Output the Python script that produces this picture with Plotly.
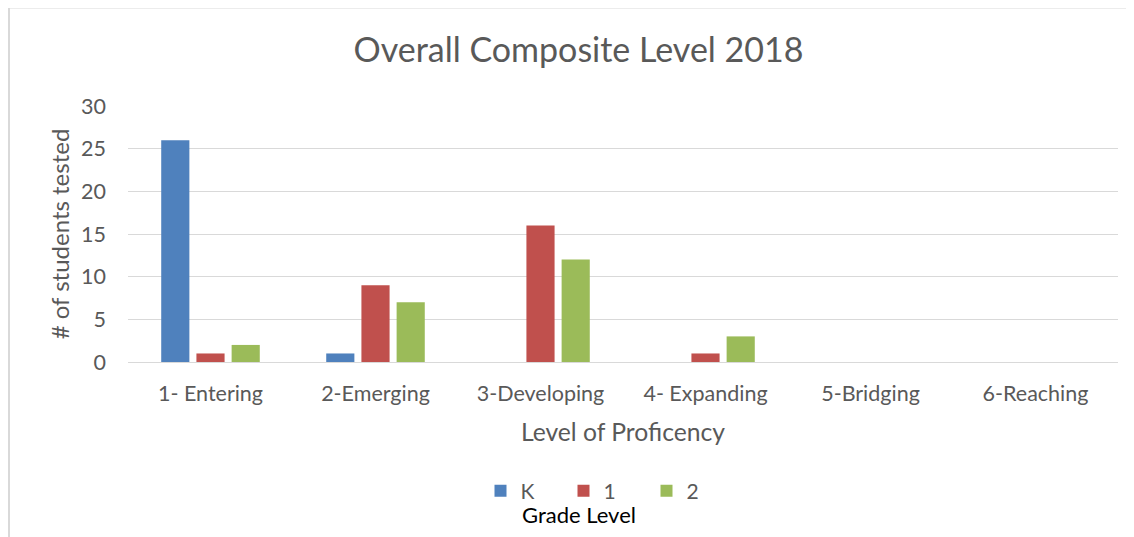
import plotly.graph_objects as go

categories = ["1- Entering", "2-Emerging", "3-Developing", "4- Expanding", "5-Bridging", "6-Reaching"]
grade_k = [26, 1, 0, 0, 0, 0]
grade_1 = [1, 9, 16, 1, 0, 0]
grade_2 = [2, 7, 12, 3, 0, 0]
series_names = ["K", "1", "2"]
colors = ["#4F81BD", "#C0504D", "#9BBB59"]

FONT = "Lato"
W, H = 1134, 537
OFF = 8  # page body margin
# screen-space plot box
SX0, SX1, SY0, SY1 = 128, 1118, 106, 362
L, T = SX0 - OFF, SY0 - OFF
R = W - (SX1 - OFF)
B = H - (SY1 - OFF)
pw, ph = SX1 - SX0, SY1 - SY0

fig = go.Figure()
for name, vals, c in zip(series_names, [grade_k, grade_1, grade_2], colors):
    fig.add_trace(go.Bar(x=categories, y=vals, name=name, marker_color=c,
                         marker_line_width=0))

def px_x(p):
    return (p - SX0) / pw

def px_y(p):
    return (SY1 - p) / ph

fig.update_layout(
    width=W, height=H,
    margin=dict(l=L, r=R, t=T, b=B, autoexpand=False),
    paper_bgcolor="white", plot_bgcolor="white",
    barmode="group", bargap=0.36, bargroupgap=0.2,
    title=dict(text="Overall Composite Level 2018", x=(578.5 - OFF) / W, xanchor="center",
               y=1 - (50 - OFF) / H, yanchor="middle", yref="container", xref="container",
               font=dict(family=FONT, size=34, color="#595959")),
    font=dict(family=FONT, color="#595959"),
    showlegend=True,
    legend=dict(orientation="h", x=px_x(605), xanchor="center", y=px_y(491), yanchor="middle",
                font=dict(family=FONT, size=21, color="#595959"),
                entrywidth=38, itemwidth=30, traceorder="normal"),
    xaxis=dict(showgrid=False, showline=True, linecolor="#D9D9D9", linewidth=1,
               automargin=False,
               ticks="", tickfont=dict(family=FONT, size=21.5, color="#595959"),
               ticklabelstandoff=12,
               title=dict(text="Level of Proficency", standoff=18,
                          font=dict(family=FONT, size=24.7, color="#595959"))),
    yaxis=dict(range=[0, 30], dtick=5, showgrid=True, gridcolor="#D9D9D9", gridwidth=1,
               automargin=False,
               zeroline=False, showline=False, ticks="",
               tickfont=dict(family=FONT, size=21.5, color="#595959"),
               ticklabelstandoff=21,
               title=dict(text="# of students tested", standoff=4,
                          font=dict(family=FONT, size=24, color="#595959"))),
    annotations=[dict(text="Grade Level", xref="paper", yref="paper",
                      x=px_x(579), y=px_y(514), xanchor="center", yanchor="middle",
                      showarrow=False, font=dict(family=FONT, size=22, color="#000000"))],
    shapes=[
        dict(type="line", xref="paper", yref="paper", x0=px_x(8), x1=px_x(1150),
             y0=px_y(7.5), y1=px_y(7.5), line=dict(color="#D9D9D9", width=2)),
        dict(type="line", xref="paper", yref="paper", x0=px_x(9), x1=px_x(9),
             y0=px_y(7), y1=px_y(560), line=dict(color="#D9D9D9", width=2)),
    ],
)

fig.write_html("out.html")
